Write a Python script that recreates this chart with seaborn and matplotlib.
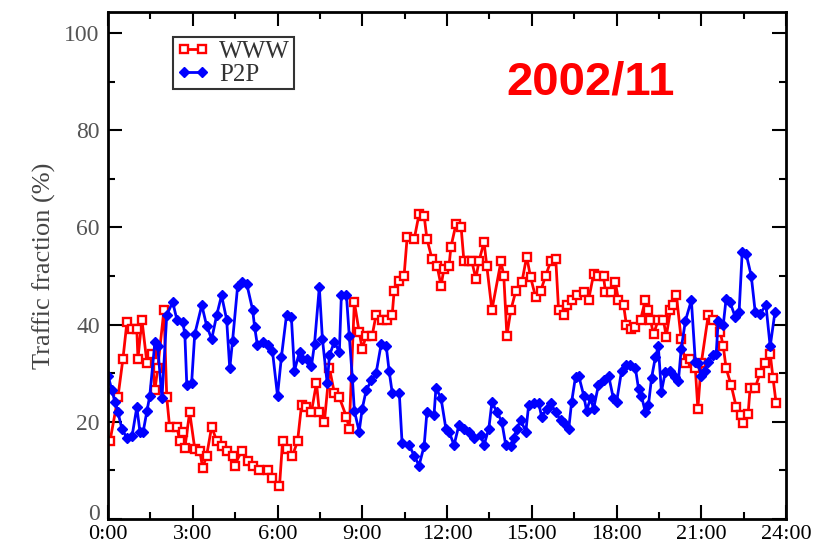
import matplotlib
matplotlib.use("Agg")
import matplotlib.pyplot as plt
import matplotlib.transforms as mtransforms
from matplotlib.ticker import MultipleLocator
import seaborn as sns
import pandas as pd

# ---- data (hours of day, traffic fraction %) ----
www_hours = [0.07, 0.35, 0.53, 0.67, 0.85, 1.02, 1.06, 1.20, 1.38, 1.55, 1.66, 1.76, 1.98, 2.08, 2.18,
             2.44, 2.54, 2.65, 2.72, 2.89, 3.07, 3.25, 3.35, 3.49, 3.67, 3.85, 4.02, 4.20, 4.41, 4.48,
             4.73, 4.94, 5.12, 5.36, 5.65, 5.79, 6.07, 6.18, 6.35, 6.53, 6.71, 6.85, 7.02, 7.20, 7.38,
             7.48, 7.66, 7.84, 8.01, 8.19, 8.44, 8.54, 8.72, 8.89, 9.00, 9.14, 9.35, 9.49, 9.71, 9.88,
             10.06, 10.13, 10.31, 10.48, 10.59, 10.84, 11.01, 11.19, 11.29, 11.47, 11.65, 11.79, 11.89,
             12.07, 12.14, 12.32, 12.50, 12.60, 12.78, 12.88, 13.02, 13.13, 13.31, 13.41, 13.59, 13.91,
             14.01, 14.12, 14.26, 14.44, 14.65, 14.82, 14.96, 15.14, 15.32, 15.49, 15.67, 15.85, 15.95,
             16.13, 16.24, 16.41, 16.59, 16.84, 17.01, 17.19, 17.36, 17.54, 17.61, 17.82, 17.96, 18.07,
             18.25, 18.35, 18.53, 18.67, 18.85, 19.02, 19.13, 19.20, 19.31, 19.48, 19.66, 19.76, 19.91,
             20.01, 20.12, 20.29, 20.44, 20.61, 20.79, 20.88, 21.00, 21.25, 21.42, 21.67, 21.78, 21.88,
             22.06, 22.24, 22.41, 22.48, 22.66, 22.73, 22.91, 23.08, 23.26, 23.44, 23.54, 23.65]
www_values = [16, 25, 33, 40.5, 39, 39, 33, 41, 32, 34, 26.5, 31, 43, 25, 19,
              19, 16, 18, 14.6, 22, 14.5, 14, 10.5, 13, 19, 16, 15, 14, 13, 11,
              14, 12, 11, 10, 10, 8.4, 6.7, 16, 14.5, 13, 16, 23.4, 23, 22, 28,
              22, 20, 31, 26, 25, 21, 18.6, 44.6, 38.5, 35, 37.7, 37.7, 42, 41, 41,
              42, 47, 49, 50, 58, 57.6, 62.7, 62.4, 57.6, 53.5, 52, 48, 51.4,
              52, 56, 60.7, 60, 53, 53, 53, 49.4, 53, 57, 52, 43, 53,
              50, 37.7, 43, 47, 48.7, 54, 49.7, 45.6, 47, 50, 53, 53.5, 43,
              42, 44, 45, 46, 46.6, 45, 50.4, 50, 50, 46.6, 46.6, 48.7, 45,
              44, 40, 39, 39.5, 41, 45, 43, 41, 38, 41, 41, 37.5, 43,
              44, 46, 37, 32, 33, 31, 22.7, 32, 42, 41, 38.5, 35.5, 31,
              27.5, 23, 21.4, 19.7, 21.7, 27, 27, 30, 32, 34, 29, 23.8]

p2p_hours = [0.00, 0.14, 0.25, 0.35, 0.49, 0.67, 0.85, 1.02, 1.13, 1.24, 1.38, 1.48, 1.66, 1.76, 1.91,
             2.08, 2.29, 2.44, 2.65, 2.72, 2.79, 2.96, 3.07, 3.32, 3.49, 3.67, 3.85, 4.02, 4.20, 4.31,
             4.41, 4.59, 4.73, 4.91, 5.12, 5.19, 5.29, 5.47, 5.65, 5.82, 6.00, 6.14, 6.32, 6.49, 6.60,
             6.78, 6.88, 7.06, 7.20, 7.31, 7.48, 7.59, 7.76, 7.84, 8.01, 8.19, 8.26, 8.44, 8.54, 8.65,
             8.72, 8.89, 9.00, 9.14, 9.32, 9.49, 9.67, 9.85, 9.95, 10.06, 10.31, 10.41, 10.66, 10.84,
             11.01, 11.19, 11.29, 11.54, 11.61, 11.79, 11.96, 12.07, 12.25, 12.42, 12.60, 12.78, 12.95,
             13.20, 13.31, 13.48, 13.59, 13.77, 13.94, 14.08, 14.26, 14.37, 14.47, 14.61, 14.79, 14.89,
             15.07, 15.25, 15.35, 15.53, 15.67, 15.85, 16.02, 16.13, 16.31, 16.41, 16.55, 16.66, 16.84,
             16.94, 17.08, 17.19, 17.36, 17.54, 17.72, 17.89, 18.00, 18.18, 18.32, 18.49, 18.67, 18.78,
             18.88, 19.02, 19.13, 19.24, 19.38, 19.48, 19.59, 19.73, 19.91, 20.08, 20.19, 20.29, 20.44,
             20.65, 20.79, 20.89, 21.00, 21.14, 21.25, 21.42, 21.53, 21.60, 21.78, 21.88, 22.02, 22.20,
             22.34, 22.45, 22.59, 22.77, 22.91, 23.08, 23.29, 23.44, 23.61]
p2p_values = [29.5, 26.5, 24, 22, 18.6, 16.6, 17, 23, 18, 17.8, 22.3, 25.4, 36.4, 35.5, 24.8,
              42, 44.6, 41, 40.5, 38, 27.5, 28, 38, 44, 39.8, 37, 42, 46, 41, 31,
              36.7, 48, 48.7, 48.4, 43, 39.5, 35.7, 36.4, 35.7, 34.6, 25.4, 33.4, 42, 41.6, 30.5,
              34.4, 33, 33, 31.4, 36, 47.7, 37, 27.9, 33.7, 36.4, 34.4, 46, 46, 37.7, 29,
              22.3, 18, 22.7, 26.5, 28.5, 30, 36, 35.5, 30.5, 26, 26, 15.6, 15.2, 13,
              11, 15, 22, 21.4, 27, 24.8, 18.6, 18, 15.2, 19.3, 18.6, 18, 16.6,
              17.2, 15.2, 18.6, 24, 22, 20, 15.2, 15, 16.6, 18.6, 20.3, 18, 23.4,
              23.8, 23.8, 21, 22.7, 23.8, 22, 20.3, 19.7, 18.6, 24, 29.3, 29.5, 25.4,
              22.3, 24.8, 22.7, 27.5, 28.5, 29.5, 24.8, 24, 30.5, 31.6, 31.6, 31, 26.8,
              25.4, 22, 23.4, 29, 33.4, 35.5, 26.2, 30.3, 30.5, 29.3, 28.3, 35, 40.8,
              45, 32.4, 32, 29.5, 30.5, 32.4, 33.7, 34, 40.8, 40, 45.3, 44.6, 41.6,
              42.6, 55, 54.5, 50, 42.6, 42.2, 44, 35.5, 42.6]

x_tick_values = [0, 3, 6, 9, 12, 15, 18, 21, 24]
x_tick_labels = ["0:00", "3:00", "6:00", "9:00", "12:00", "15:00", "18:00", "21:00", "24:00"]
y_tick_values = [0, 20, 40, 60, 80, 100]
title_text = "2002/11"
y_label = "Traffic fraction (%)"

sns.set_theme(style="ticks")
plt.rcParams["font.family"] = ["Liberation Serif", "DejaVu Serif"]

df_www = pd.DataFrame({"hour": www_hours, "value": www_values})
df_p2p = pd.DataFrame({"hour": p2p_hours, "value": p2p_values})

fig = plt.figure(figsize=(8.27, 5.5), dpi=100)
ax = fig.add_axes([108 / 827, 31 / 550, 678 / 827, 507 / 550])

sns.lineplot(data=df_www, x="hour", y="value", ax=ax, color="#ff0000", linewidth=2.0,
             marker="s", markersize=6, markerfacecolor="white", markeredgecolor="#ff0000",
             markeredgewidth=1.7, sort=False, estimator=None, label="WWW")
sns.lineplot(data=df_p2p, x="hour", y="value", ax=ax, color="#0000ff", linewidth=2.0,
             marker="D", markersize=5.5, markerfacecolor="#0000ff", markeredgecolor="#0000ff",
             markeredgewidth=1.0, sort=False, estimator=None, label="P2P")

ax.set_xlim(0, 24)
ax.set_ylim(0, 104.3)
ax.set_xticks(x_tick_values)
ax.set_xticklabels(x_tick_labels, fontsize=16)
ax.set_yticks(y_tick_values)
ax.set_yticklabels([str(v) for v in y_tick_values], fontsize=17)
ax.xaxis.set_minor_locator(MultipleLocator(1.5))
ax.yaxis.set_minor_locator(MultipleLocator(10))
ax.tick_params(which="both", direction="in", top=True, right=True, width=1.5, colors="black")
ax.tick_params(which="major", length=10)
ax.tick_params(which="minor", length=5)
ax.tick_params(axis="x", pad=4)
ax.tick_params(axis="y", pad=6)
ylabels = ax.get_yticklabels()
for lab in ylabels:
    lab.set_color("#555555")
# lift the "0" label a little so it does not collide with "0:00"
ylabels[0].set_transform(ylabels[0].get_transform() +
                         mtransforms.ScaledTranslation(0, 5 / 72, fig.dpi_scale_trans))
for lab in ax.get_xticklabels():
    lab.set_color("black")

for sp in ax.spines.values():
    sp.set_visible(True)
    sp.set_linewidth(2)
    sp.set_color("black")

ax.set_xlabel("")
ax.set_ylabel(y_label, fontsize=19, color="#444444", labelpad=6)

ax.text(0.712, 0.86, title_text, transform=ax.transAxes, ha="center", va="center",
        fontsize=34, fontweight="bold", color="#ff0000", family=["Liberation Sans", "DejaVu Sans"])

leg = ax.legend(loc="upper left", bbox_to_anchor=(0.0956, 0.951), borderaxespad=0,
                fontsize=18, numpoints=2, handlelength=1.3, handletextpad=0.4,
                labelspacing=0.0, borderpad=0.15, frameon=True, fancybox=False)
leg.get_frame().set_edgecolor("black")
leg.get_frame().set_linewidth(1.5)
for t in leg.get_texts():
    t.set_color("#333333")

fig.savefig("out.png", dpi=100)
